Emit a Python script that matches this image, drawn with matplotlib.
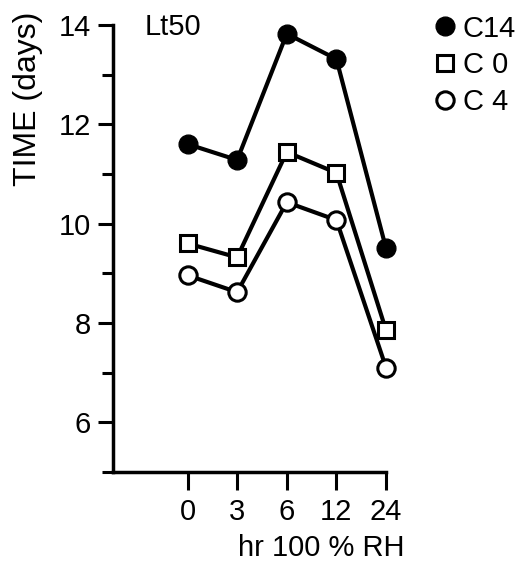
import matplotlib
matplotlib.use('Agg')
import matplotlib.pyplot as plt
from matplotlib.ticker import MultipleLocator

plotfontsize = 21
plotLinewidth = 3
plt.rcParams['font.family'] = ['Liberation Sans', 'DejaVu Sans']

# treatment (hr at 100% RH), plotted at equal spacing
hours = ['0', '3', '6', '12', '24']
xpos = [0, 1, 2, 3, 4]

# Lt50 time (days)
c14 = [11.6, 11.28, 13.82, 13.31, 9.50]
c0 = [9.6, 9.32, 11.44, 11.02, 7.85]
c4 = [8.96, 8.62, 10.43, 10.07, 7.10]

fig = plt.figure(figsize=(5.21, 5.64), dpi=100)
ax = plt.axes([0.217, 0.163, 0.524, 0.793])

ax.plot(xpos, c14, color='k', linewidth=plotLinewidth, marker='o',
        markersize=13.5, markerfacecolor='k', markeredgecolor='k',
        label='C14', zorder=3, clip_on=False)
ax.plot(xpos, c0, color='k', linewidth=plotLinewidth, marker='s',
        markersize=11.5, markerfacecolor='w', markeredgecolor='k',
        markeredgewidth=2.2, label='C 0', zorder=3, clip_on=False)
ax.plot(xpos, c4, color='k', linewidth=plotLinewidth, marker='o',
        markersize=12.5, markerfacecolor='w', markeredgecolor='k',
        markeredgewidth=2.2, label='C 4', zorder=3, clip_on=False)

ax.set_xlim(-1.5, 4.0)
ax.set_ylim(5.0, 14.0)
ax.spines['top'].set_visible(False)
ax.spines['right'].set_visible(False)
ax.spines['left'].set_linewidth(2.5)
ax.spines['bottom'].set_linewidth(2.5)

ax.set_xticks(xpos)
ax.set_xticklabels(hours)
ax.set_yticks([6, 8, 10, 12, 14])
ax.yaxis.set_minor_locator(MultipleLocator(1))
ax.tick_params(axis='y', which='major', direction='out', length=11, width=2.2,
               labelsize=plotfontsize, pad=5)
ax.tick_params(axis='y', which='minor', direction='out', length=8, width=2.2)
ax.tick_params(axis='x', direction='out', length=13, width=2.2,
               labelsize=plotfontsize, pad=6)

ax.set_ylabel('TIME (days)', fontsize=23)
ax.yaxis.set_label_coords(-0.255, 0.835)
fig.text(0.617, 0.015, 'hr 100 % RH', fontsize=plotfontsize, ha='center')
fig.text(0.278, 0.952, 'Lt50', fontsize=plotfontsize, va='center')

hl = fig.legend(loc='upper left', bbox_to_anchor=(0.827, 1.0),
                fontsize=plotfontsize, frameon=False, handlelength=0,
                handletextpad=0.6, labelspacing=0.3, borderaxespad=0.1)
for line in hl.get_lines():
    line.set_linestyle('None')

plt.savefig('out.png', dpi=100)
